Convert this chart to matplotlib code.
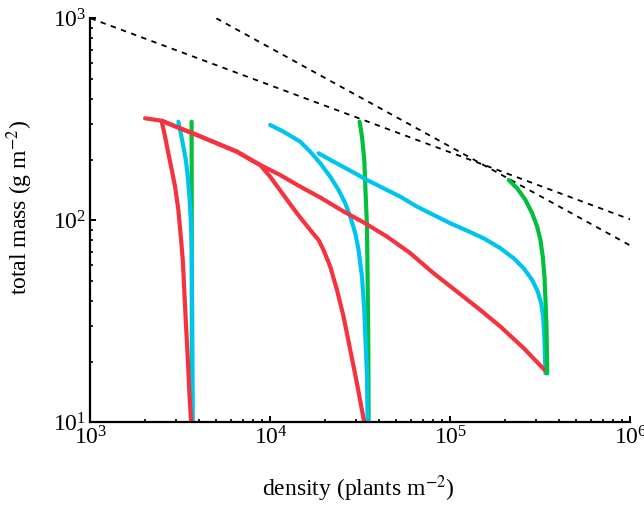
import matplotlib
matplotlib.use("Agg")
import matplotlib.pyplot as plt
from matplotlib.ticker import LogLocator, LogFormatterSciNotation, NullFormatter

plt.rcParams['font.family'] = ['Liberation Serif', 'DejaVu Serif']
plt.rcParams['mathtext.fontset'] = 'stix'

# self-thinning reference lines (dashed)
thin1_x = [1e3, 1e6]
thin1_y = [1000, 101]
thin2_x = [5000, 1e6]
thin2_y = [1000, 75]

# red runs (density, total mass)
red_a_x = [3622, 3545, 3473, 3398, 3325, 3257, 3175, 3078, 2951, 2829, 2708, 2597, 2489]
red_a_y = [10, 13.9, 20.4, 29.8, 43.7, 63.7, 83.1, 112.6, 146.8, 177.6, 214.8, 259.5, 307.8]
red_b_x = [33200, 32240, 30240, 27760, 25470, 23410, 21480, 19710, 18490, 16630,
           14030, 11810, 9961, 8764, 6504, 5034, 3897, 3147, 2489]
red_b_y = [10, 11.5, 15.6, 22.8, 33.4, 45.3, 59.0, 71.4, 80.0, 89.6,
           108.4, 133.6, 164.5, 188, 218.8, 240.7, 264.6, 285.5, 311]
red_c_x = [337200, 255400, 189500, 146700, 108800, 80670, 59840, 44410, 33630, 25470,
           18900, 14260, 11324, 8764, 6504, 5034, 3897, 3147, 2489, 2010]
red_c_y = [18.0, 23.3, 29.8, 36.0, 44.4, 54.7, 68.8, 83.1, 96.7, 110.7,
           129.8, 148.8, 167.7, 188, 218.8, 240.7, 264.6, 285.5, 311, 320]

# cyan runs
cyan_a_x = [3702, 3683, 3668, 3655, 3609, 3545, 3473, 3385, 3282, 3175, 3078]
cyan_a_y = [10, 24.7, 43.7, 71.4, 100.5, 131, 164.5, 199, 231.6, 269.8, 307.8]
cyan_b_x = [34630, 34370, 33760, 33200, 32240, 30860, 29590, 27760, 26030, 23890,
            21480, 18900, 16630, 14630, 11810, 9961]
cyan_b_y = [10, 16.9, 24.7, 36.0, 52.6, 71.4, 86.3, 104.3, 121.5, 141.4,
            164.5, 191.7, 218.8, 245.1, 274.8, 296.5]
cyan_c_x = [337200, 332800, 327300, 319100, 305500, 284400, 255400, 224600, 189500, 153000,
            123700, 99860, 80670, 65200, 52630, 42510, 34370, 27760, 22410, 18490]
cyan_c_y = [17.5, 25.6, 33.4, 38.9, 44.4, 50.7, 57.9, 64.9, 72.8, 81.5,
            88.9, 96.7, 106.3, 116.9, 131, 144.1, 158.5, 176.2, 195.2, 214.8]

# green runs
green_a_x = [3660, 3655, 3650, 3645]
green_a_y = [10, 50, 150, 308]
green_b_x = [35090, 34950, 34630, 34370, 33760, 33200, 32240, 31260]
green_b_y = [10, 24.7, 52.6, 93.1, 136.2, 199, 259.5, 307.8]
green_c_x = [344600, 341500, 337200, 332800, 325700, 316200, 303100, 284400, 261000, 234700, 210700]
green_c_y = [17.5, 29.8, 40.4, 52.6, 66.1, 79.9, 93.1, 108.4, 126.2, 144.1, 158.5]

red = '#F4333F'
cyan = '#00C4F0'
green = '#00C03C'

fig = plt.figure(figsize=(6.44, 5.05), dpi=100)
ax = fig.add_axes([0.1405, 0.1634, 0.8385, 0.8004])

ax.plot(thin1_x, thin1_y, color='black', lw=1.3, ls=(0, (3, 3)))
ax.plot(thin2_x, thin2_y, color='black', lw=1.3, ls=(0, (3, 3)))

lw = 3
for xs, ys in [(green_a_x, green_a_y), (green_b_x, green_b_y)]:
    ax.plot(xs, ys, color=green, lw=lw, solid_capstyle='round', solid_joinstyle='round')
for xs, ys in [(cyan_a_x, cyan_a_y), (cyan_b_x, cyan_b_y), (cyan_c_x, cyan_c_y)]:
    ax.plot(xs, ys, color=cyan, lw=lw, solid_capstyle='round', solid_joinstyle='round')
for xs, ys in [(red_a_x, red_a_y), (red_b_x, red_b_y), (red_c_x, red_c_y)]:
    ax.plot(xs, ys, color=red, lw=lw, solid_capstyle='round', solid_joinstyle='round')
ax.plot(green_c_x, green_c_y, color=green, lw=lw, solid_capstyle='round', solid_joinstyle='round')

ax.set_xscale('log')
ax.set_yscale('log')
ax.set_xlim(1e3, 1e6)
ax.set_ylim(1e1, 1e3)

for axis in [ax.xaxis, ax.yaxis]:
    axis.set_major_locator(LogLocator(base=10))
    axis.set_minor_locator(LogLocator(base=10, subs=range(2, 10)))
    axis.set_major_formatter(LogFormatterSciNotation())
    axis.set_minor_formatter(NullFormatter())

ax.spines['top'].set_visible(False)
ax.spines['right'].set_visible(False)
ax.spines['left'].set_linewidth(1.6)
ax.spines['bottom'].set_linewidth(1.6)
ax.tick_params(which='major', direction='in', length=4, width=1.4, labelsize=17, pad=3)
ax.tick_params(which='minor', direction='in', length=2.5, width=1.2)

ax.set_xlabel('density (plants m$^{-2}$)', fontsize=17)
ax.set_ylabel('total mass (g m$^{-2}$)', fontsize=17)
ax.xaxis.set_label_coords(0.496, -0.125)
ax.yaxis.set_label_coords(-0.103, 0.531)

fig.savefig('out.png', dpi=100)
